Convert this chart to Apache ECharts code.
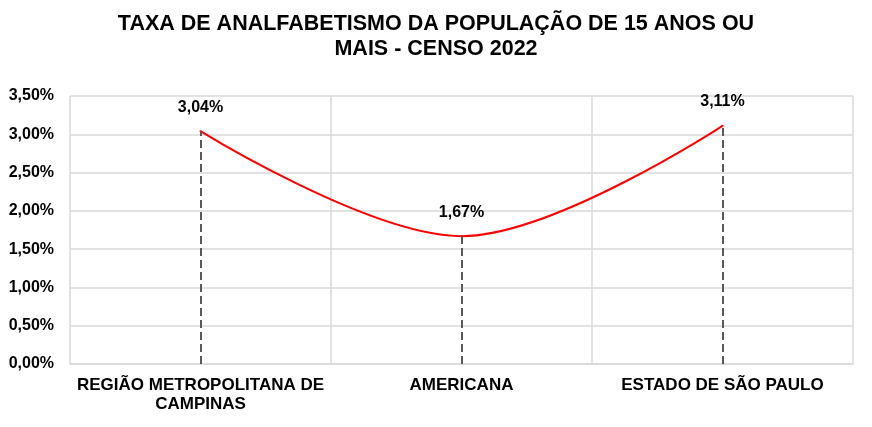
<!DOCTYPE html>
<html>
<head>
<meta charset="utf-8">
<script src="https://cdn.jsdelivr.net/npm/echarts@6/dist/echarts.min.js"></script>
<style>
  html, body { margin: 0; padding: 0; background: #fff; }
  #main { width: 872px; height: 427px; }
</style>
</head>
<body>
<div id="main"></div>
<script>
// dados
var categorias = ['REGIÃO METROPOLITANA DE\nCAMPINAS', 'AMERICANA', 'ESTADO DE SÃO PAULO'];
var taxas = [3.04, 1.67, 3.11];   // em %
var eixoY = { min: 0, max: 3.5, step: 0.5 };

function pct(v) {
    return v.toFixed(2).replace('.', ',') + '%';
}

var fonte = '"Liberation Sans", Arial, sans-serif';

// linhas tracejadas do ponto até o eixo
var quedas = taxas.map(function (v, i) {
    return [{ coord: [i, 0] }, { coord: [i, v] }];
});

var myChart = echarts.init(document.getElementById('main'));

var option = {
    animation: false,
    textStyle: { fontFamily: fonte },
    title: {
        text: 'TAXA DE ANALFABETISMO DA POPULAÇÃO DE 15 ANOS OU\nMAIS - CENSO 2022',
        left: 431,
        top: 7,
        textAlign: 'center',
        textStyle: {
            fontFamily: fonte,
            fontSize: 21.5,
            fontWeight: 'bold',
            color: '#000',
            lineHeight: 25
        }
    },
    grid: { left: 70, right: 19, top: 96, bottom: 63 },
    xAxis: {
        type: 'category',
        data: categorias,
        boundaryGap: true,
        axisLine: { show: true, lineStyle: { color: '#d9d9d9', width: 1.5 } },
        axisTick: { show: false },
        splitLine: { show: true, lineStyle: { color: '#d9d9d9', width: 1.5 } },
        axisLabel: {
            color: '#000',
            fontFamily: fonte,
            fontSize: 17,
            fontWeight: 'bold',
            lineHeight: 19,
            margin: 12,
            interval: 0
        }
    },
    yAxis: {
        type: 'value',
        min: eixoY.min,
        max: eixoY.max,
        interval: eixoY.step,
        axisLine: { show: false },
        axisTick: { show: false },
        splitLine: { show: true, lineStyle: { color: '#d9d9d9', width: 1.5 } },
        axisLabel: {
            color: '#000',
            fontFamily: fonte,
            fontSize: 16,
            fontWeight: 'bold',
            margin: 16,
            formatter: pct
        }
    },
    series: [
        {
            type: 'line',
            data: taxas,
            smooth: 0.35,
            symbol: 'circle',
            symbolSize: 2,
            showSymbol: true,
            itemStyle: { color: '#ff0000' },
            lineStyle: { color: '#ff0000', width: 2 },
            label: {
                show: true,
                position: 'top',
                distance: 15,
                color: '#000',
                fontFamily: fonte,
                fontSize: 16,
                fontWeight: 'bold',
                formatter: function (p) { return pct(p.value); }
            },
            markLine: {
                silent: true,
                symbol: ['none', 'none'],
                label: { show: false },
                lineStyle: { color: '#595959', type: [8, 4], width: 2 },
                data: quedas
            },
            z: 3
        }
    ]
};

myChart.setOption(option);
</script>
</body>
</html>
